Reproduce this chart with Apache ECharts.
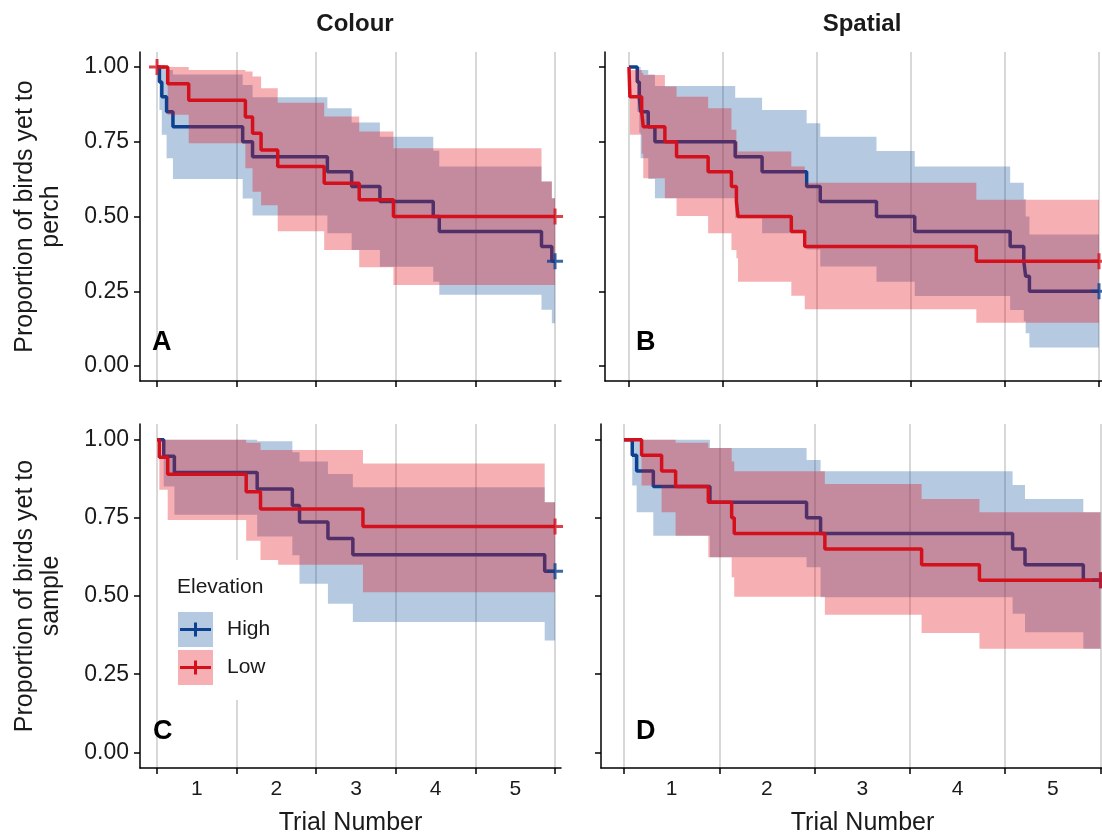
<!DOCTYPE html>
<html>
<head>
<meta charset="utf-8">
<script src="https://cdn.jsdelivr.net/npm/echarts@6/dist/echarts.min.js"></script>
<style>
  html, body { margin: 0; padding: 0; background: #fff; }
  #chart { width: 1102px; height: 837px; }
</style>
</head>
<body>
<div id="chart"></div>
<script>
// Kaplan-Meier curves: event times (trial units),
// survival, and the lower/upper confidence limits that hold after each time.

// Panel A — Colour / perch
const aHighT  = [0, 0.03, 0.06, 0.12, 0.20, 1.076, 1.20, 2.14, 2.445, 2.80, 3.47, 3.546, 4.83, 4.96, 5.0];
const aHighS  = [1, 0.95, 0.90, 0.85, 0.80, 0.75, 0.70, 0.65, 0.60, 0.55, 0.50, 0.45, 0.40, 0.35, 0.35];
const aHighLo = [1, 0.856, 0.773, 0.695, 0.625, 0.56, 0.503, 0.444, 0.388, 0.332, 0.282, 0.238, 0.188, 0.143, 0.143];
const aHighHi = [1, 1, 1, 0.99, 0.975, 0.94, 0.899, 0.862, 0.814, 0.767, 0.72, 0.667, 0.617, 0.561, 0.561];
const aLowT   = [0, 0.134, 0.398, 1.11, 1.20, 1.307, 1.516, 2.10, 2.54, 2.97, 4.83, 4.96, 5.0];
const aLowS   = [1, 0.944, 0.889, 0.833, 0.778, 0.722, 0.667, 0.611, 0.556, 0.5, 0.5, 0.5, 0.5];
const aLowLo  = [1, 0.84, 0.745, 0.661, 0.583, 0.538, 0.451, 0.388, 0.33, 0.271, 0.271, 0.271, 0.271];
const aLowHi  = [1, 1, 0.99, 0.985, 0.968, 0.929, 0.88, 0.834, 0.784, 0.728, 0.617, 0.561, 0.561];
const aHighCensX = [5.0], aHighCensY = [0.35];
const aLowCensX  = [0, 5.0], aLowCensY = [1, 0.5];

// Panel B — Spatial / perch
const bHighT  = [0, 0.088, 0.11, 0.124, 0.205, 0.276, 1.13, 1.416, 1.89, 2.035, 2.633, 3.04, 4.055, 4.2, 4.22, 4.26, 5.0];
const bHighS  = [1, 0.95, 0.90, 0.85, 0.80, 0.75, 0.70, 0.65, 0.60, 0.55, 0.50, 0.45, 0.40, 0.35, 0.30, 0.25, 0.25];
const bHighLo = [1, 0.85, 0.78, 0.695, 0.625, 0.561, 0.494, 0.444, 0.39, 0.333, 0.282, 0.234, 0.187, 0.15, 0.11, 0.062, 0.062];
const bHighHi = [1, 1, 1, 0.99, 0.975, 0.936, 0.897, 0.856, 0.812, 0.767, 0.719, 0.667, 0.613, 0.558, 0.50, 0.44, 0.44];
const bLowT   = [0, 0.01, 0.135, 0.152, 0.382, 0.506, 0.842, 1.09, 1.143, 1.16, 1.727, 1.87, 3.695, 5.0];
const bLowS   = [1, 0.90, 0.85, 0.80, 0.75, 0.70, 0.65, 0.60, 0.55, 0.50, 0.45, 0.40, 0.35, 0.35];
const bLowLo  = [1, 0.773, 0.71, 0.628, 0.561, 0.502, 0.444, 0.388, 0.36, 0.282, 0.235, 0.19, 0.145, 0.145];
const bLowHi  = [1, 0.99, 0.98, 0.973, 0.935, 0.90, 0.862, 0.79, 0.75, 0.717, 0.667, 0.613, 0.556, 0.556];
const bHighCensX = [5.0], bHighCensY = [0.25];
const bLowCensX  = [5.0], bLowCensY = [0.35];

// Panel C — Colour / sample
const cHighT  = [0, 0.084, 0.218, 1.258, 1.70, 1.79, 2.147, 2.46, 4.87, 5.0];
const cHighS  = [1, 0.947, 0.895, 0.842, 0.789, 0.737, 0.684, 0.632, 0.579, 0.579];
const cHighLo = [1, 0.85, 0.76, 0.69, 0.63, 0.539, 0.475, 0.417, 0.358, 0.358];
const cHighHi = [1, 1, 1, 0.995, 0.96, 0.93, 0.89, 0.848, 0.80, 0.80];
const cLowT   = [0, 0.029, 0.134, 1.12, 1.30, 2.587, 4.87, 5.0];
const cLowS   = [1, 0.944, 0.889, 0.833, 0.778, 0.722, 0.722, 0.722];
const cLowLo  = [1, 0.84, 0.743, 0.677, 0.60, 0.512, 0.512, 0.512];
const cLowHi  = [1, 1, 1, 0.99, 0.967, 0.924, 0.80, 0.80];
const cHighCensX = [5.0], cHighCensY = [0.579];
const cLowCensX  = [5.0], cLowCensY = [0.722];

// Panel D — Spatial / sample
const dHighT  = [0, 0.087, 0.133, 0.308, 0.902, 1.916, 2.063, 4.078, 4.208, 4.82, 5.0];
const dHighS  = [1, 0.95, 0.90, 0.85, 0.80, 0.75, 0.70, 0.65, 0.60, 0.55, 0.55];
const dHighLo = [1, 0.853, 0.768, 0.693, 0.624, 0.592, 0.496, 0.443, 0.384, 0.331, 0.331];
const dHighHi = [1, 1, 1, 1, 0.973, 0.935, 0.899, 0.855, 0.81, 0.768, 0.768];
const dLowT   = [0, 0.185, 0.395, 0.542, 0.885, 1.13, 1.157, 2.108, 3.123, 3.73, 5.0];
const dLowS   = [1, 0.95, 0.90, 0.85, 0.80, 0.75, 0.70, 0.65, 0.60, 0.55, 0.55];
const dLowLo  = [1, 0.853, 0.768, 0.693, 0.624, 0.56, 0.498, 0.44, 0.382, 0.331, 0.331];
const dLowHi  = [1, 1, 1, 0.99, 0.973, 0.93, 0.899, 0.858, 0.81, 0.768, 0.768];
const dHighCensX = [5.0], dHighCensY = [0.55];
const dLowCensX  = [5.0], dLowCensY = [0.55];

// axes
const trialTicks = [0, 1, 2, 3, 4, 5];
const trialLabelAt = [0.5, 1.5, 2.5, 3.5, 4.5];
const trialLabels = ['1', '2', '3', '4', '5'];
const propTicks = [0, 0.25, 0.5, 0.75, 1];
const columnTitles = ['Colour', 'Spatial'];
const panelLetters = ['A', 'B', 'C', 'D'];
const rowTitles = ['Proportion of birds yet to\nperch', 'Proportion of birds yet to\nsample'];

const FONT = "'Liberation Sans', Arial, sans-serif";
const INK = '#1a1a1a';
const HIGH_LINE = '#0d418f';
const LOW_LINE = '#d3101c';
const HIGH_BAND = 'rgba(24,86,158,0.32)';
const LOW_BAND = 'rgba(227,8,21,0.32)';
const CROSS = 'path://M0,6.5 L16,6.5 L16,9.5 L0,9.5 Z M6.5,0 L9.5,0 L9.5,16 L6.5,16 Z';
// line-with-cross legend key, padded to a 35x35 box so it is not stretched
const KEY = 'path://M0,0 L0.01,0 L0,0.01 Z M2,16 L33,16 L33,19 L2,19 Z M16,10.5 L19,10.5 L19,24.5 L16,24.5 Z M35,35 L34.99,35 L35,34.99 Z';

const panels = [
  { high: [aHighT, aHighS, aHighLo, aHighHi, aHighCensX, aHighCensY], low: [aLowT, aLowS, aLowLo, aLowHi, aLowCensX, aLowCensY] },
  { high: [bHighT, bHighS, bHighLo, bHighHi, bHighCensX, bHighCensY], low: [bLowT, bLowS, bLowLo, bLowHi, bLowCensX, bLowCensY] },
  { high: [cHighT, cHighS, cHighLo, cHighHi, cHighCensX, cHighCensY], low: [cLowT, cLowS, cLowLo, cLowHi, cLowCensX, cLowCensY] },
  { high: [dHighT, dHighS, dHighLo, dHighHi, dHighCensX, dHighCensY], low: [dLowT, dLowS, dLowLo, dLowHi, dLowCensX, dLowCensY] },
];

// panel boxes; the right column is cut by the page edge just past x = 5
const grids = [
  { left: 140, top: 52, width: 421, height: 329 },
  { left: 605, top: 52, width: 497, height: 329 },
  { left: 140, top: 424, width: 421, height: 344 },
  { left: 601, top: 424, width: 501, height: 344 },
];
const xRange = [[-0.214, 5.075], [-0.255, 5.032], [-0.214, 5.075], [-0.241, 5.016]];

function band(i, name, t, lo, hi, color, z) {
  return {
    type: 'custom', name, xAxisIndex: i, yAxisIndex: i, z, silent: true,
    data: [[t[0], hi[0]]],
    renderItem(params, api) {
      const top = [], bottom = [];
      for (let k = 0; k < t.length - 1; k++) {
        top.push(api.coord([t[k], hi[k]]), api.coord([t[k + 1], hi[k]]));
        bottom.push(api.coord([t[k], lo[k]]), api.coord([t[k + 1], lo[k]]));
      }
      return { type: 'polygon', shape: { points: top.concat(bottom.reverse()) }, style: { fill: color } };
    },
  };
}

function curve(i, name, t, s, color, z) {
  return {
    type: 'line', name, xAxisIndex: i, yAxisIndex: i, z, step: 'end', symbol: 'none', silent: true,
    lineStyle: { color, width: 3.5 }, itemStyle: { color },
    data: t.map((x, k) => [x, s[k]]),
  };
}

function marks(i, name, cx, cy, color, z) {
  return {
    type: 'scatter', name, xAxisIndex: i, yAxisIndex: i, z, symbol: CROSS, symbolSize: 16, silent: true,
    clip: false, itemStyle: { color }, data: cx.map((x, k) => [x, cy[k]]),
  };
}

const series = [];
panels.forEach((p, i) => {
  const [hT, hS, hLo, hHi, hCx, hCy] = p.high;
  const [lT, lS, lLo, lHi, lCx, lCy] = p.low;
  // order matters: the low ribbon sits over the high line, which tints it purple
  series.push(band(i, 'High', hT, hLo, hHi, HIGH_BAND, 1));
  series.push(band(i, 'Low', lT, lLo, lHi, LOW_BAND, 3));
  series.push(curve(i, 'High', hT, hS, HIGH_LINE, 2));
  series.push(curve(i, 'Low', lT, lS, LOW_LINE, 4));
  series.push(marks(i, 'High', hCx, hCy, HIGH_LINE, 5));
  series.push(marks(i, 'Low', lCx, lCy, LOW_LINE, 6));
});

const axisLine = { color: '#000', width: 1.5 };

const titles = [
  { text: columnTitles[0], left: 355, top: 12, textAlign: 'center' },
  { text: columnTitles[1], left: 862, top: 12, textAlign: 'center' },
].map(t => ({ ...t, padding: 0, textStyle: { fontFamily: FONT, fontSize: 24, fontWeight: 'bold', color: INK } }));

const letterPos = [[152, 329], [636, 329], [153, 718], [636, 718]];
panelLetters.forEach((L, i) => {
  titles.push({ text: L, left: letterPos[i][0], top: letterPos[i][1], padding: 0,
    textStyle: { fontFamily: FONT, fontSize: 27, fontWeight: 'bold', color: '#000' } });
});
titles.push({ text: 'Elevation', left: 177, top: 577, padding: 0, z: 8,
  textStyle: { fontFamily: FONT, fontSize: 21, fontWeight: 'normal', color: INK } });

const legendBase = {
  orient: 'vertical', left: 165, top: 560, padding: [52, 8, 15, 13], itemGap: 3,
  itemWidth: 35, itemHeight: 35, selectedMode: false,
};

const option = {
  animation: false,
  backgroundColor: '#fff',
  title: titles,
  grid: grids,
  legend: [
    { ...legendBase, backgroundColor: '#fff', z: 6,
      data: [{ name: 'High', icon: 'rect', itemStyle: { color: HIGH_BAND } },
             { name: 'Low', icon: 'rect', itemStyle: { color: LOW_BAND } }],
      textStyle: { fontFamily: FONT, fontSize: 21, color: INK, padding: [0, 0, 0, 9] } },
    { ...legendBase, z: 7, formatter: () => '',
      data: [{ name: 'High', icon: KEY, itemStyle: { color: HIGH_LINE } },
             { name: 'Low', icon: KEY, itemStyle: { color: LOW_LINE } }] },
  ],
  xAxis: grids.map((g, i) => ({
    gridIndex: i, type: 'value', min: xRange[i][0], max: xRange[i][1],
    name: i >= 2 ? 'Trial Number' : '', nameLocation: 'middle', nameGap: 43,
    nameTextStyle: { fontFamily: FONT, fontSize: 25, color: INK, padding: i === 3 ? [0, 0, 0, 22] : 0 },
    axisLine: { show: true, onZero: false, lineStyle: axisLine },
    axisTick: { show: true, customValues: trialTicks, length: 6, lineStyle: axisLine },
    axisLabel: { show: i >= 2, customValues: trialLabelAt, margin: 11,
      formatter: v => trialLabels[trialLabelAt.indexOf(v)],
      fontFamily: FONT, fontSize: 21, color: INK },
    splitLine: { show: true, lineStyle: { color: '#cbcbcb', width: 1.5 } },
  })),
  yAxis: grids.map((g, i) => ({
    gridIndex: i, type: 'value', min: -0.05, max: 1.05,
    name: i % 2 === 0 ? rowTitles[i / 2] : '', nameLocation: 'middle', nameRotate: 90, nameGap: 76,
    nameTextStyle: { fontFamily: FONT, fontSize: 25, lineHeight: 26, color: INK },
    axisLine: { show: true, onZero: false, lineStyle: axisLine },
    axisTick: { show: true, customValues: propTicks, length: 6, lineStyle: axisLine },
    axisLabel: { show: i % 2 === 0, customValues: propTicks, margin: 11,
      formatter: v => v.toFixed(2), fontFamily: FONT, fontSize: 23, color: INK },
    splitLine: { show: false },
  })),
  series,
};

const chart = echarts.init(document.getElementById('chart'), null, { renderer: 'canvas' });
chart.setOption(option);
</script>
</body>
</html>
